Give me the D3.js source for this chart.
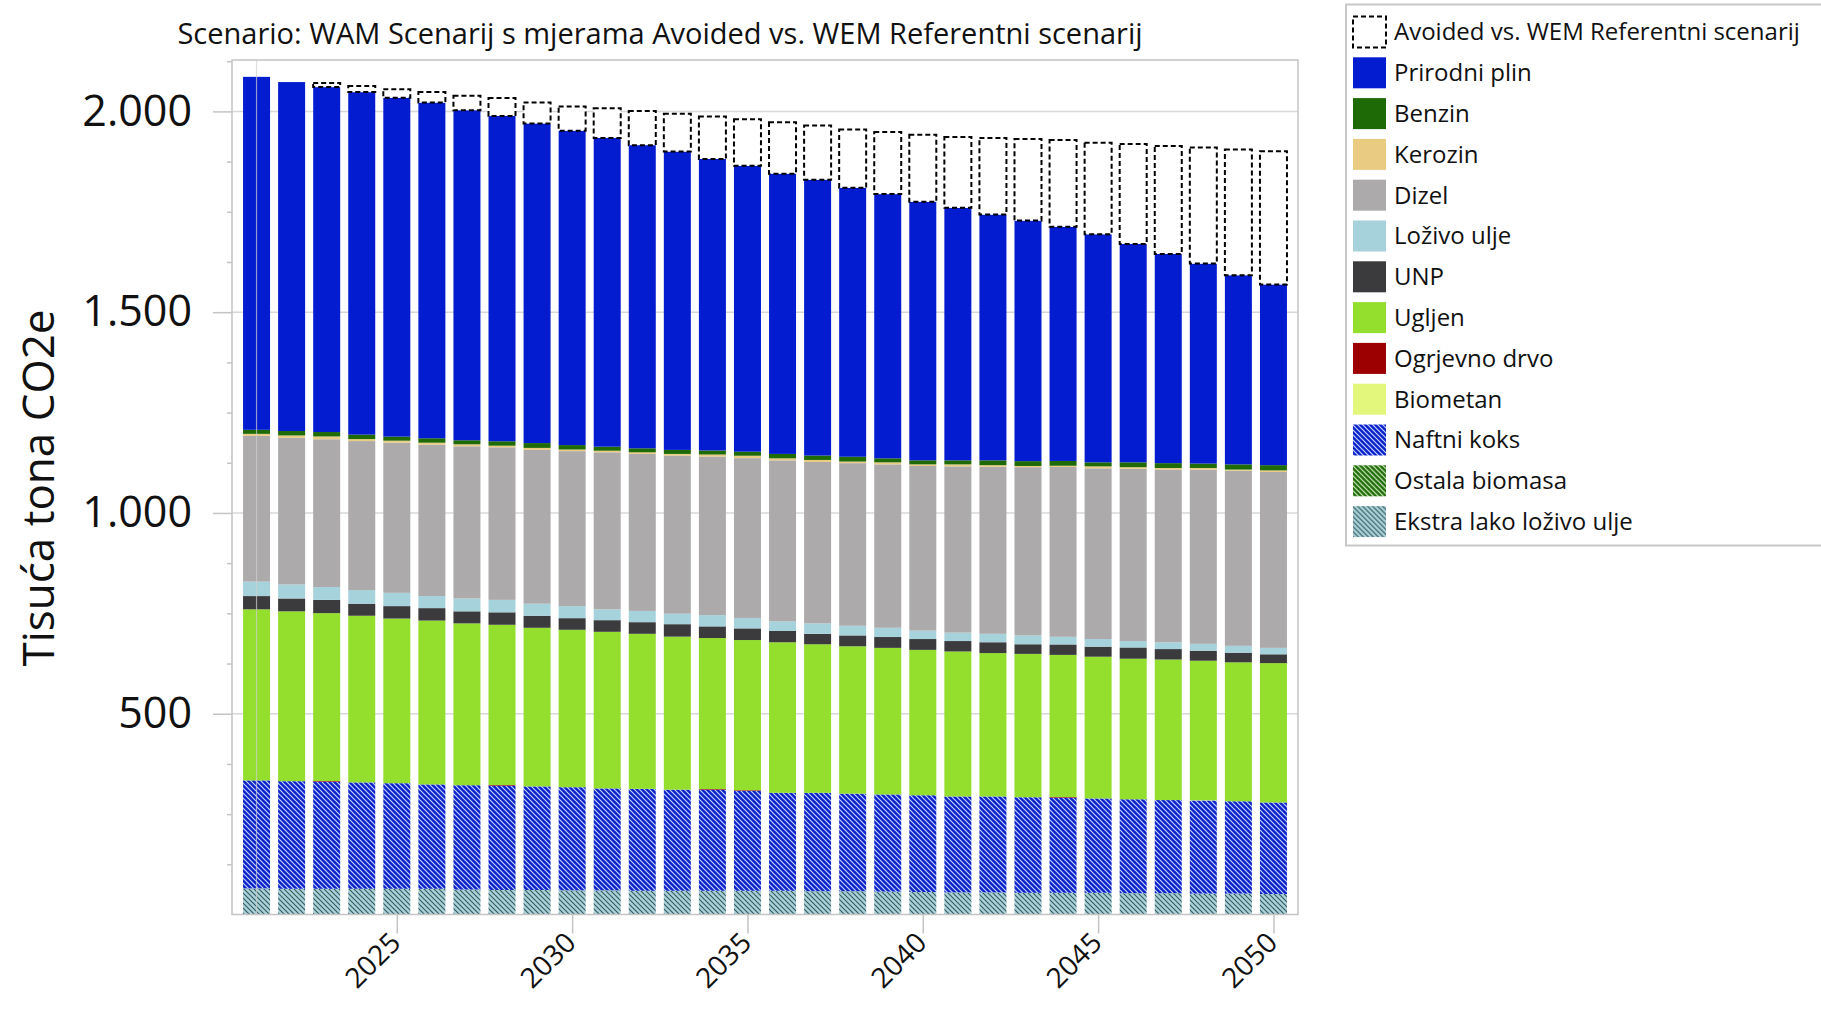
<!DOCTYPE html>
<html>
<head>
<meta charset="utf-8">
<script src="https://cdn.jsdelivr.net/npm/d3@7/dist/d3.min.js"></script>
<style>
    body { margin: 0; background: #fff; }
    text { font-family: "Open Sans", "Noto Sans", sans-serif; fill: #111; }
</style>
</head>
<body>
<svg id="chart"></svg>
<script>
const years = [2021, 2022, 2023, 2024, 2025, 2026, 2027, 2028, 2029, 2030,
    2031, 2032, 2033, 2034, 2035, 2036, 2037, 2038, 2039, 2040,
    2041, 2042, 2043, 2044, 2045, 2046, 2047, 2048, 2049, 2050];

const ekstraLako = [65, 64, 64, 64, 64, 64, 62, 61, 61, 60, 60, 59, 59, 59, 59, 59, 58, 58, 57, 56, 55, 55, 54, 54, 54, 53, 53, 52, 52, 51];
const ostalaBiomasa = [0, 0, 0, 0, 0, 0, 0, 0, 0, 0, 0, 0, 0, 0, 0, 0, 0, 0, 0, 0, 0, 0, 0, 0, 0, 0, 0, 0, 0, 0];
const naftniKoks = [269, 268, 267, 265, 263, 260, 260, 260, 258, 257, 254, 254, 252, 252, 249, 244, 245, 243, 242, 241, 239, 239, 238, 237, 235, 234, 232, 232, 230, 228];
const biometan = [0, 0, 0, 0, 0, 0, 0, 0, 0, 0, 0, 0, 0, 0, 0, 0, 0, 0, 0, 0, 0, 0, 0, 0, 0, 0, 0, 1, 0, 0];
const ogrjevnoDrvo = [0, 0, 1.5, 0, 0, 0, 0, 1.5, 0, 0, 0, 0, 0, 1.5, 1.5, 0, 0, 0, 0, 0, 0, 0, 0, 1.5, 0, 0, 0, 0, 0, 0];
const ugljen = [426, 423, 418, 415, 410, 408, 403, 399, 395, 392, 390, 386, 381, 376, 374, 375, 370, 367, 365, 362, 361, 357, 357, 354, 353, 350, 350, 347, 346, 347];
const unp = [33, 32, 33, 30, 31, 31, 30, 31, 30, 29, 29, 29, 31, 29, 29, 28, 26, 27, 27, 27, 26, 27, 24, 26, 25, 28, 26, 25, 24, 22];
const lozivoUlje = [36, 35, 32, 34, 33, 30, 32, 31, 30, 30, 27, 28, 26, 28, 26, 24, 26, 24, 23, 21, 21, 21, 22, 19, 19, 16, 17, 17, 17, 16];
const dizel = [363, 365, 368, 371, 374, 377, 379, 380, 383, 386, 391, 391, 394, 395, 398, 401, 402, 405, 407, 410, 414, 416, 419, 423, 425, 429, 430, 434, 436, 438];
const kerozin = [5, 6, 7, 5, 5, 5, 5, 4, 5, 4, 4, 4, 4, 5, 6, 5, 5, 4, 5, 4, 5, 4, 3, 3, 5, 4, 4, 4, 3, 4];
const benzin = [10, 11, 11, 11, 10, 11, 10, 11, 12, 11, 10, 10, 10, 10, 10, 11, 11, 12, 10, 10, 10, 12, 12, 12, 10, 12, 12, 11, 13, 13];
const prirodniPlin = [879, 869, 859, 853, 844, 836, 822, 810, 796, 783, 769, 755, 743, 726, 712, 698, 687, 670, 658, 644, 629, 612, 599, 583, 568, 544, 521, 498, 471, 450];
const avoided = [0, 0, 10, 15, 21, 26, 36, 45, 52, 60, 74, 85, 94, 106, 116, 128, 135, 145, 155, 167, 176, 191, 203, 216, 228, 249, 269, 289, 313, 332];

// stack order, bottom to top
const keys = ["Ekstra lako loživo ulje", "Ostala biomasa", "Naftni koks", "Biometan", "Ogrjevno drvo",
    "Ugljen", "UNP", "Loživo ulje", "Dizel", "Kerozin", "Benzin", "Prirodni plin",
    "Avoided vs. WEM Referentni scenarij"];
const series = [ekstraLako, ostalaBiomasa, naftniKoks, biometan, ogrjevnoDrvo, ugljen, unp,
    lozivoUlje, dizel, kerozin, benzin, prirodniPlin, avoided];

const yTicks = [500, 1000, 1500, 2000];
const xTicks = [2025, 2030, 2035, 2040, 2045, 2050];
const title = "Scenario: WAM Scenarij s mjerama Avoided vs. WEM Referentni scenarij";
const yTitle = "Tisuća tona CO2e";

const width = 1821, height = 1015;
const plot = { left: 232, right: 1298, top: 60, bottom: 914.5 };
const avoidedKey = keys[keys.length - 1];

const fills = {
    "Ekstra lako loživo ulje": "url(#hatchEkstra)",
    "Ostala biomasa": "url(#hatchOstala)",
    "Naftni koks": "url(#hatchNaftni)",
    "Biometan": "#e2f77c",
    "Ogrjevno drvo": "#9c0000",
    "Ugljen": "#94de2e",
    "UNP": "#3b3b3d",
    "Loživo ulje": "#a6d2dc",
    "Dizel": "#adaaac",
    "Kerozin": "#e9cc82",
    "Benzin": "#1d6a06",
    "Prirodni plin": "#031ccf",
    "Avoided vs. WEM Referentni scenarij": "#fff"
};

const table = years.map((year, i) => {
    const row = { year };
    keys.forEach((k, j) => { row[k] = series[j][i]; });
    return row;
});

const svg = d3.select("#chart").attr("width", width).attr("height", height);
svg.append("rect").attr("width", width).attr("height", height).attr("fill", "#fff");

const defs = svg.append("defs");
function hatch(id, bg, line, lw) {
    const p = defs.append("pattern")
        .attr("id", id)
        .attr("patternUnits", "userSpaceOnUse")
        .attr("width", 5)
        .attr("height", 5);
    p.append("rect").attr("width", 5).attr("height", 5).attr("fill", bg);
    p.append("path")
        .attr("d", "M-1,-1L6,6M-1,4L1,6M4,-1L6,1")
        .attr("stroke", line)
        .attr("stroke-width", lw);
}
hatch("hatchNaftni", "#0a22c9", "#c6d0ff", 1.2);
hatch("hatchOstala", "#226d0b", "#d0ecc0", 1.2);
hatch("hatchEkstra", "#a9d1d7", "#335a5e", 1.1);

const x = d3.scaleLinear()
    .domain([2020.3, 2050.7])
    .range([plot.left, plot.right]);
const step = x(2022) - x(2021);
const barW = step * 0.77;

const y = d3.scaleLinear()
    .domain([0, 2128])
    .range([plot.bottom, plot.top]);

// grid
svg.append("g")
    .selectAll("line")
    .data(yTicks)
    .join("line")
    .attr("x1", plot.left).attr("x2", plot.right)
    .attr("y1", d => y(d)).attr("y2", d => y(d))
    .attr("stroke", "#d8d8d8")
    .attr("stroke-width", 1.5);

// bars
const stacked = d3.stack().keys(keys)(table);

const layers = svg.append("g")
    .selectAll("g")
    .data(stacked)
    .join("g")
    .attr("fill", d => fills[d.key]);

layers.selectAll("rect")
    .data(d => d.filter(p => p[1] - p[0] > 0).map(p => Object.assign(p, { key: d.key })))
    .join("rect")
    .attr("x", d => x(d.data.year) - barW / 2)
    .attr("width", barW)
    .attr("y", d => y(d[1]))
    .attr("height", d => y(d[0]) - y(d[1]))
    .attr("stroke", d => d.key === avoidedKey ? "#000" : "none")
    .attr("stroke-width", d => d.key === avoidedKey ? 2 : 0)
    .attr("stroke-dasharray", d => d.key === avoidedKey ? "5,3" : null);

// marker line on first year
svg.append("line")
    .attr("x1", x(years[0])).attr("x2", x(years[0]))
    .attr("y1", plot.top).attr("y2", plot.bottom)
    .attr("stroke", "#d0d0d0")
    .attr("stroke-opacity", 0.7)
    .attr("stroke-width", 1.2);

// frame
svg.append("rect")
    .attr("x", plot.left).attr("y", plot.top)
    .attr("width", plot.right - plot.left)
    .attr("height", plot.bottom - plot.top)
    .attr("fill", "none")
    .attr("stroke", "#c4c4c4")
    .attr("stroke-width", 1.5);

// y axis
const minorTicks = d3.range(125, 2128, 125).filter(v => v % 500 !== 0);
const yAxis = svg.append("g")
    .attr("transform", `translate(${plot.left},0)`)
    .call(d3.axisLeft(y).tickValues(yTicks).tickSize(19).tickPadding(21).tickFormat(d => d3.format(",")(d).replace(",", ".")));
yAxis.select(".domain").remove();
yAxis.selectAll(".tick line").attr("stroke", "#c4c4c4").attr("stroke-width", 1.5);
yAxis.selectAll(".tick text").attr("font-size", 43).attr("fill", "#111");

const yMinor = svg.append("g")
    .attr("transform", `translate(${plot.left},0)`)
    .call(d3.axisLeft(y).tickValues(minorTicks).tickSize(5).tickFormat(""));
yMinor.select(".domain").remove();
yMinor.selectAll(".tick line").attr("stroke", "#c4c4c4").attr("stroke-width", 1.5);

// x axis
const xAxis = svg.append("g")
    .attr("transform", `translate(0,${plot.bottom})`)
    .call(d3.axisBottom(x).tickValues(xTicks).tickSize(19).tickFormat(d3.format("d")));
xAxis.select(".domain").remove();
xAxis.selectAll(".tick line").attr("stroke", "#c4c4c4").attr("stroke-width", 1.5);
xAxis.selectAll(".tick text")
    .attr("font-size", 28)
    .attr("fill", "#111")
    .attr("text-anchor", "end")
    .attr("x", 0)
    .attr("y", 0)
    .attr("dy", 0)
    .attr("transform", "translate(5,30) rotate(-45)");

// titles
svg.append("text")
    .attr("x", 660)
    .attr("y", 44)
    .attr("text-anchor", "middle")
    .attr("font-size", 29)
    .text(title);

svg.append("text")
    .attr("transform", "translate(54,488) rotate(-90)")
    .attr("text-anchor", "middle")
    .attr("font-size", 44)
    .text(yTitle);

// legend
const legend = svg.append("g");
legend.append("rect")
    .attr("x", 1346).attr("y", 4.5)
    .attr("width", 490).attr("height", 541)
    .attr("fill", "#fff")
    .attr("stroke", "#c8c8c8")
    .attr("stroke-width", 2);

const legendKeys = keys.slice().reverse();
const item = legend.selectAll("g.item")
    .data(legendKeys)
    .join("g")
    .attr("class", "item")
    .attr("transform", (d, i) => `translate(1353,${32 + i * 40.8})`);

item.append("rect")
    .attr("x", 0).attr("y", -15.5)
    .attr("width", 33).attr("height", 31)
    .attr("fill", d => fills[d])
    .attr("stroke", d => d === avoidedKey ? "#000" : "none")
    .attr("stroke-width", 2)
    .attr("stroke-dasharray", d => d === avoidedKey ? "5,3" : null);

item.append("text")
    .attr("x", 41)
    .attr("dy", "0.35em")
    .attr("font-size", 24)
    .text(d => d);
</script>
</body>
</html>
